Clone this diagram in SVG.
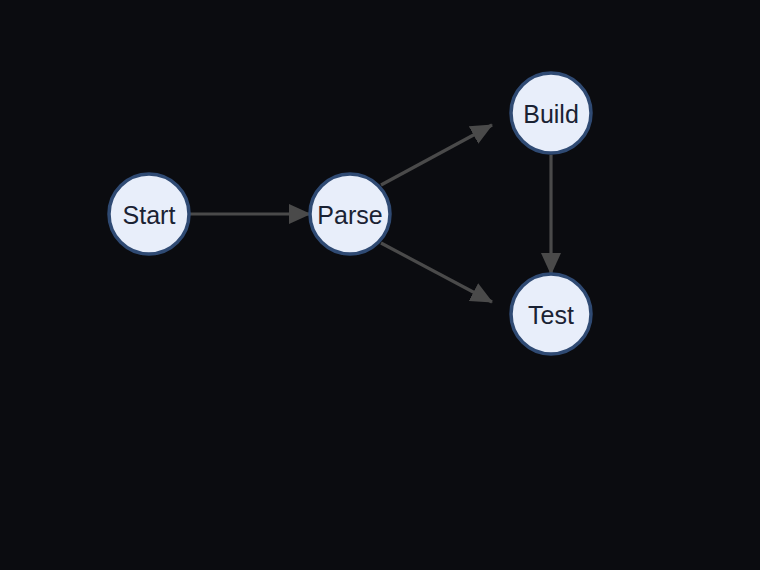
<svg xmlns="http://www.w3.org/2000/svg" width="760" height="570" viewBox="0 0 760 570">
<style>
.node circle{fill:#e8eefa;stroke:#2f4a73;stroke-width:3.5}
.node text{font-family:"Liberation Sans",Arial,sans-serif;font-size:25px;fill:#1a2233;text-anchor:middle;dominant-baseline:central}
.edge{stroke:#4a4a4a;stroke-width:3.2;fill:none;marker-end:url(#arrow)}
</style>
<defs>
<marker id="arrow" markerUnits="userSpaceOnUse" markerWidth="22" markerHeight="22" viewBox="0 0 22 22" refX="21" refY="11" orient="auto">
<path d="M0,1 L22,11 L0,21 Z" fill="#4a4a4a"/>
</marker>
</defs>
<rect width="760" height="570" fill="#0b0c10"/>
<g id="connectors">
<line class="edge" x1="190" y1="214" x2="310" y2="214"/>
<line class="edge" x1="381" y1="185" x2="492" y2="125"/>
<line class="edge" x1="381" y1="243" x2="492" y2="302"/>
<line class="edge" x1="551" y1="155" x2="551" y2="274"/>
</g>
<g id="node-start" class="node"><circle cx="149" cy="214" r="40"/><text x="149" y="215">Start</text></g>
<g id="node-parse" class="node"><circle cx="350" cy="214" r="40"/><text x="350" y="215">Parse</text></g>
<g id="node-build" class="node"><circle cx="551" cy="113" r="40"/><text x="551" y="114">Build</text></g>
<g id="node-test" class="node"><circle cx="551" cy="314" r="40"/><text x="551" y="315">Test</text></g>
</svg>
